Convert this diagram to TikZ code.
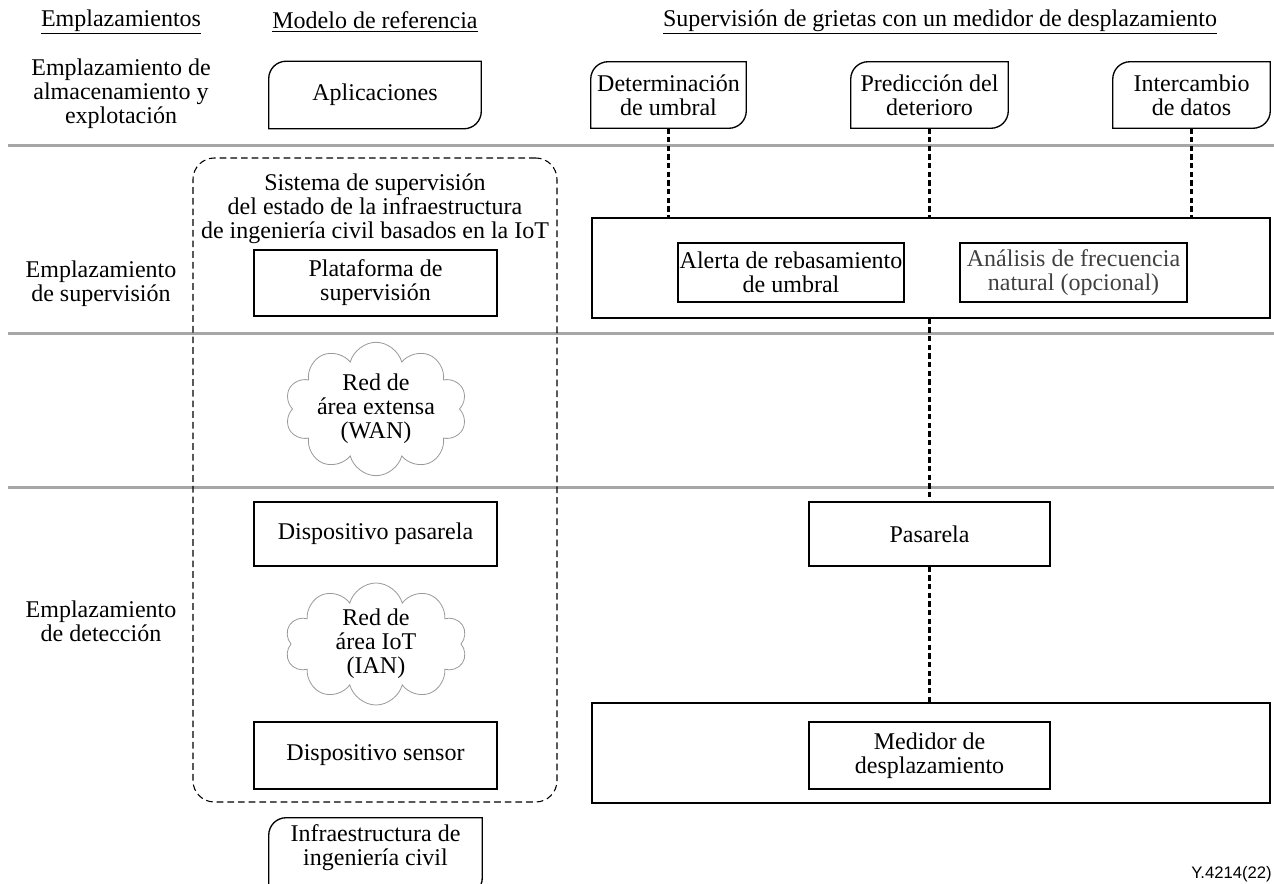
\documentclass[tikz,border=0pt]{standalone}
\usepackage{fontspec}
\setmainfont{Liberation Serif}
\newfontfamily\figsans{Liberation Sans}
\usetikzlibrary{shapes.symbols}
\newcommand\fs{\fontsize{18}{18}\selectfont}
\newcommand\tabdraw[1]{\draw[line width=1pt] (#1.south west) -- ([yshift=-13pt]#1.north west) arc[start angle=180,end angle=90,radius=13pt] -- (#1.north east) -- ([yshift=13pt]#1.south east) arc[start angle=0,end angle=-90,radius=13pt] -- cycle;}
\tikzset{
  base/.style={font=\fs, align=center, inner sep=0pt},
  box/.style={base, draw, line width=1pt},
  tabbox/.style={base},
  gline/.style={draw=black!35, line width=2.25pt},
  conn/.style={line width=1.6pt, dash pattern=on 4pt off 2.5pt},
  cloudn/.style={base, cloud, cloud puffs=10, cloud ignores aspect, draw=black!40, line width=0.6pt},
  sysbox/.style={draw, line width=0.8pt, dash pattern=on 5pt off 3pt, rounded corners=16pt},
}
\begin{document}
\begin{tikzpicture}[x=0.75pt,y=-0.75pt]
\useasboundingbox (0,0) rectangle (1274,884);
\clip (0,0) rectangle (1274,884);

% separators
\coordinate (g1a) at (8,146);  \coordinate (g1b) at (1274,146);
\coordinate (g2a) at (8,333);  \coordinate (g2b) at (1274,333);
\coordinate (g3a) at (8,487);  \coordinate (g3b) at (1274,487);
\draw[gline] (g1a) -- (g1b);
\draw[gline] (g2a) -- (g2b);
\draw[gline] (g3a) -- (g3b);

% headers
\node[base] (h1) at (121,22) {\underline{Emplazamientos}};
\node[base] (h2) at (375,22) {\underline{Modelo de referencia}};
\node[base] (h3) at (940,22) {\underline{Supervisión de grietas con un medidor de desplazamiento}};

% left labels
\node[base] (l1) at (121,94) {Emplazamiento de\\almacenamiento y\\explotación};
\node[base] (l2) at (101,284) {Emplazamiento\\de supervisión};
\node[base] (l3) at (101,621) {Emplazamiento\\de detección};

% reference model column
\node[sysbox, minimum width=364*0.75pt, minimum height=644*0.75pt] (sys) at (375,480) {};
\node[base] (systxt) at (375,209) {Sistema de supervisión\\del estado de la infraestructura\\de ingeniería civil basados en la IoT};

\node[tabbox, minimum width=212*0.75pt, minimum height=67*0.75pt] (apl) at (375,95) {Aplicaciones};
\tabdraw{apl}
\node[box, minimum width=243*0.75pt, minimum height=66*0.75pt] (plat) at (375.5,283) {Plataforma de\\supervisión};
\node[cloudn, minimum width=182*0.75pt, minimum height=123*0.75pt] (wan) at (376,409) {Red de\\área extensa\\(WAN)};
\node[box, minimum width=243*0.75pt, minimum height=64*0.75pt] (dpas) at (375.5,534) {Dispositivo pasarela};
\node[cloudn, minimum width=182*0.75pt, minimum height=122*0.75pt] (ian) at (376,644) {Red de\\área IoT\\(IAN)};
\node[box, minimum width=243*0.75pt, minimum height=67*0.75pt] (dsen) at (375.5,755.5) {Dispositivo sensor};
\node[tabbox, minimum width=213*0.75pt, minimum height=77*0.75pt] (infra) at (375.5,856.5) {};
\tabdraw{infra}
\node[base] (infratxt) at (375.5,848) {Infraestructura de\\ingeniería civil};

% crack monitoring column
\node[tabbox, minimum width=155*0.75pt, minimum height=66*0.75pt] (det) at (668.5,95) {Determinación\\de umbral};
\tabdraw{det}
\node[tabbox, minimum width=157*0.75pt, minimum height=66*0.75pt] (pred) at (929.5,95) {Predicción del\\deterioro};
\tabdraw{pred}
\node[tabbox, minimum width=157*0.75pt, minimum height=66*0.75pt] (inter) at (1191.5,95) {Intercambio\\de datos};
\tabdraw{inter}

\node[box, minimum width=678*0.75pt, minimum height=100*0.75pt] (big) at (931,268) {};
\node[box, minimum width=226*0.75pt, minimum height=59*0.75pt] (alerta) at (791,272.5) {Alerta de rebasamiento\\de umbral};
\node[box, minimum width=227*0.75pt, minimum height=59*0.75pt, text=black!75] (anal) at (1073.5,272.5) {Análisis de frecuencia\\natural (opcional)};

\node[box, minimum width=241*0.75pt, minimum height=64*0.75pt] (pas) at (929.5,534) {Pasarela};
\node[box, minimum width=678*0.75pt, minimum height=100*0.75pt] (medo) at (931,753) {};
\node[box, minimum width=241*0.75pt, minimum height=67*0.75pt] (medi) at (929.5,755.5) {Medidor de\\desplazamiento};

% connectors
\draw[conn] (det.south) -- (det.south |- big.north);
\draw[conn] (pred.south) -- (pred.south |- big.north);
\draw[conn] (inter.south) -- (inter.south |- big.north);
\draw[conn] (big.south -| pas.north) -- (pas.north);
\draw[conn] (pas.south) -- (pas.south |- medo.north);

\node[font=\figsans\fontsize{12.5}{14}\selectfont, inner sep=0pt, anchor=east] (ref) at (1272,874) {Y.4214(22)};
\end{tikzpicture}
\end{document}
